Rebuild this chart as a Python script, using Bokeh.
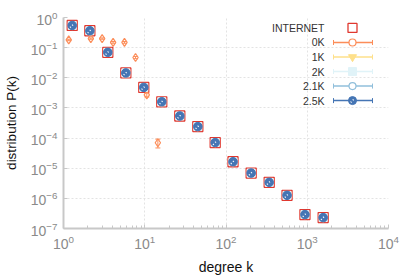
import numpy as np
from bokeh.plotting import figure
from bokeh.models import (ColumnDataSource, Range1d, FixedTicker,
                          LogTickFormatter, Whisker, TeeHead)
from bokeh.embed import file_html
from bokeh.resources import INLINE

# ---- data ----
k_internet = [1.28, 2.11, 3.51, 5.85, 9.73, 16.2, 27.0, 45.0, 73.6, 122, 204, 340, 564, 937, 1570]
p_internet = [0.545, 0.363, 0.070, 0.0145, 0.0048, 0.0016, 0.00054, 0.00024,
              7.1e-5, 1.64e-5, 6.9e-6, 3.4e-6, 1.26e-6, 2.9e-7, 2.3e-7]

k_0k = [1.16, 2.17, 2.99, 4.08, 5.63, 7.7, 10.6, 14.5]
p_0k = [0.18, 0.20, 0.20, 0.15, 0.15, 0.047, 0.0027, 7.0e-5]
e_0k_lo = [0.17, 0.19, 0.19, 0.14, 0.14, 0.043, 0.0023, 4.7e-5]
e_0k_hi = [0.19, 0.21, 0.21, 0.16, 0.16, 0.051, 0.0031, 9.2e-5]

k_1k = k_internet
p_1k = p_internet
k_2k = k_internet
p_2k = p_internet
k_21k = k_internet
p_21k = p_internet
k_25k = k_internet
p_25k = p_internet

x_ticks = [1, 10, 100, 1000, 10000]
x_minor = [m * d for d in [1, 10, 100, 1000] for m in range(2, 10)]
y_ticks = [1e-7, 1e-6, 1e-5, 1e-4, 1e-3, 1e-2, 1e-1, 1]

legend_labels = ["INTERNET", "0K", "1K", "2K", "2.1K", "2.5K"]
x_label = "degree k"
y_label = "distribution P(k)"

C_INT = "#e0382f"
C_0K = "#fc8d59"
C_1K = "#fee08b"
C_2K = "#e0f3f8"
C_21K = "#91bfdb"
C_25K = "#4575b4"
SERIES_COLORS = [C_0K, C_1K, C_2K, C_21K, C_25K]

FONT = "Liberation Sans"

W, H = 415, 277
BL, BR, BT, BB = 63, 27, 17, 48
FW, FH = W - BL - BR, H - BT - BB
X0, X1 = 1, 1e4
Y0, Y1 = 1e-7, 1


def fx(px):
    """frame pixel (from left) -> data x on the log axis"""
    return 10 ** (np.log10(X0) + (np.log10(X1) - np.log10(X0)) * px / FW)


def fy(py):
    """frame pixel (from top) -> data y on the log axis"""
    return 10 ** (np.log10(Y1) - (np.log10(Y1) - np.log10(Y0)) * py / FH)


p = figure(x_axis_type="log", y_axis_type="log",
           x_range=Range1d(X0, X1), y_range=Range1d(Y0, Y1),
           width=W, height=H,
           min_border_left=BL, min_border_top=BT, min_border_right=BR, min_border_bottom=BB,
           output_backend="svg", toolbar_location=None)
p.outline_line_color = None

for ax in (p.xaxis[0], p.yaxis[0]):
    ax.axis_line_color = "#c8c8c8"
    ax.axis_line_width = 2
    ax.major_tick_line_color = "#c8c8c8"
    ax.major_tick_in = 4
    ax.major_tick_out = 0
    ax.major_label_text_font = FONT
    ax.major_label_text_font_size = "14px"
    ax.major_label_text_color = "#8a8a8a"
    ax.formatter = LogTickFormatter()
    ax.axis_label_text_font = FONT
    ax.axis_label_text_font_style = "normal"
    ax.axis_label_text_color = "#111111"

p.xaxis.axis_label = x_label
p.yaxis.axis_label = y_label
p.xaxis.axis_label_text_font_size = "14px"
p.yaxis.axis_label_text_font_size = "13.5px"
p.xaxis.axis_label_standoff = 7
p.yaxis.axis_label_standoff = 9

p.xaxis.ticker = FixedTicker(ticks=x_ticks, minor_ticks=x_minor)
p.xaxis.minor_tick_line_color = "#c8c8c8"
p.xaxis.minor_tick_in = 3
p.xaxis.minor_tick_out = 0
p.yaxis.ticker = FixedTicker(ticks=y_ticks)
p.yaxis.minor_tick_line_color = None
p.xaxis.major_label_standoff = 6
p.yaxis.major_label_standoff = 6

for g in (p.xgrid[0], p.ygrid[0]):
    g.grid_line_color = "#e3e3e3"
    g.grid_line_dash = "2 2"
    g.grid_line_width = 1
p.xgrid.ticker = FixedTicker(ticks=x_ticks)
p.ygrid.ticker = FixedTicker(ticks=y_ticks)

# ---- data glyphs ----
p.scatter(k_internet, p_internet, marker="square", size=10, line_color=C_INT,
          line_width=1.3, fill_color="#f5a39c", fill_alpha=0.6)

src0 = ColumnDataSource(dict(k=k_0k, p=p_0k, lo=e_0k_lo, hi=e_0k_hi))
p.add_layout(Whisker(source=src0, base="k", lower="lo", upper="hi", dimension="height",
                     line_color=C_0K, line_width=1,
                     lower_head=TeeHead(size=5, line_color=C_0K, line_width=1),
                     upper_head=TeeHead(size=5, line_color=C_0K, line_width=1)))
p.scatter("k", "p", source=src0, marker="diamond", size=8, line_color=C_0K,
          line_width=1.2, fill_color=None)

p.scatter(k_1k, p_1k, marker="inverted_triangle", size=8, line_color=C_1K, fill_color=C_1K)
p.scatter(k_2k, p_2k, marker="square", size=8, line_color=C_2K, fill_color=C_2K)
p.scatter(k_21k, p_21k, marker="circle", size=8, line_color=C_21K, fill_color=None)
p.scatter(k_25k, p_25k, marker="circle", size=8.5, line_color=C_25K, fill_color=C_25K)
p.scatter(k_25k, p_25k, marker="dash", size=6, angle=np.pi / 4, line_color="white",
          line_width=1.5, line_dash="1 2")

# ---- legend (positions given in frame pixels, converted to the log axes) ----
ly = [10.5 + 14.6 * i for i in range(len(legend_labels))]
ly_d = [fy(v) for v in ly]
ly_e = ly[1:]
p.text(x=[fx(261)] * len(ly), y=ly_d, text=legend_labels, text_align="right",
       text_baseline="middle", text_font_size="10.5px", text_color="#333333",
       text_font={"value": FONT})
p.segment(x0=[fx(270)] * 5, y0=[fy(v) for v in ly_e], x1=[fx(309)] * 5, y1=[fy(v) for v in ly_e],
          line_color=SERIES_COLORS, line_width=1.5)
for xe in (270, 309):
    p.segment(x0=[fx(xe)] * 5, y0=[fy(v - 2.5) for v in ly_e], x1=[fx(xe)] * 5,
              y1=[fy(v + 2.5) for v in ly_e], line_color=SERIES_COLORS, line_width=1)
mx = fx(289)
p.scatter(x=[mx], y=[ly_d[0]], marker="square", size=9, line_color=C_INT, line_width=1.3,
          fill_color="white")
p.scatter(x=[mx], y=[ly_d[1]], marker="circle", size=7, line_color=C_0K, line_width=1.2,
          fill_color="white")
p.scatter(x=[mx], y=[ly_d[2]], marker="inverted_triangle", size=8, line_color=C_1K, fill_color=C_1K)
p.scatter(x=[mx], y=[ly_d[3]], marker="square", size=8, line_color=C_2K, fill_color=C_2K)
p.scatter(x=[mx], y=[ly_d[4]], marker="circle", size=7, line_color=C_21K, line_width=1.2,
          fill_color="white")
p.scatter(x=[mx], y=[ly_d[5]], marker="circle", size=8, line_color=C_25K, fill_color=C_25K)
p.scatter(x=[mx], y=[ly_d[5]], marker="dash", size=5, angle=np.pi / 4, line_color="white",
          line_width=1.5, line_dash="1 2")

open("out.html", "w").write(file_html(p, INLINE))
